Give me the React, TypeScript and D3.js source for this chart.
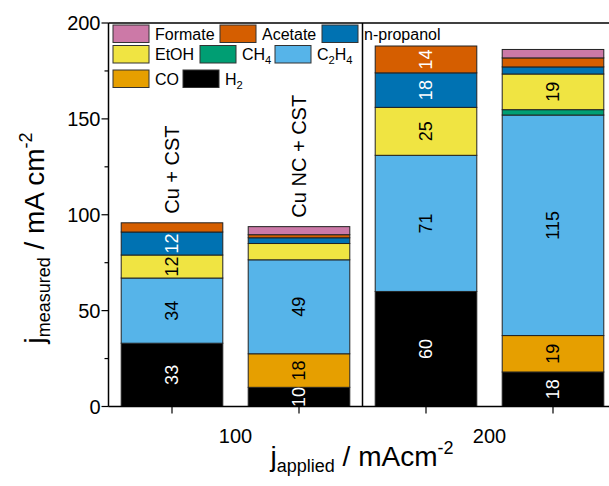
import React from 'react';
import * as d3 from 'd3';

// bars: two catalysts at each applied current density
const bars = ['Cu + CST @100', 'Cu NC + CST @100', 'Cu + CST @200', 'Cu NC + CST @200'];
const barNames = ['Cu + CST', 'Cu NC + CST', '', ''];
const groups = ['100', '200'];
const products = ['H2', 'CO', 'C2H4', 'CH4', 'EtOH', 'n-propanol', 'Acetate', 'Formate'];
const colors = ['#000000', '#E69F00', '#56B4E9', '#009E73', '#F0E442', '#0072B2', '#D55E00', '#CC79A7'];
const whiteText = ['H2', 'n-propanol', 'Acetate'];

const H2 = [33, 10, 60, 18];
const CO = [0, 17.5, 0, 19];
const C2H4 = [34, 49, 71, 115];
const CH4 = [0, 0, 0, 2.8];
const EtOH = [12, 8.5, 25, 18.6];
const nPropanol = [12, 3, 18, 3.7];
const Acetate = [4.8, 1.6, 14, 4.7];
const Formate = [0, 4.2, 0, 4.4];

const yTicks = [0, 50, 100, 150, 200];
const yMinor = [25, 75, 125, 175];

// legend rows (top to bottom)
const legendRows = [
  ['Formate', 'Acetate', 'n-propanol'],
  ['EtOH', 'CH4', 'C2H4'],
  ['CO', 'H2'],
];

const font = '"Liberation Sans", Arial, Helvetica, sans-serif';

const chem = (name: string, size: number) => {
  const parts = name.split(/(\d)/).filter(p => p !== '');
  let sub = false;
  return parts.map((p, i) => {
    if (/^\d$/.test(p)) {
      const el = <tspan key={i} dy={sub ? 0 : 4} fontSize={size * 0.7}>{p}</tspan>;
      sub = true;
      return el;
    }
    const el = <tspan key={i} dy={sub ? -4 : 0} fontSize={size}>{p}</tspan>;
    sub = false;
    return el;
  });
};

const App = () => {
  const width = 609;
  const height = 486;
  const left = 108.5;
  const top = 23;
  const bottom = 406.5;
  const right = 616.5;

  const rows = bars.map((b, i) => ({
    bar: b,
    H2: H2[i], CO: CO[i], C2H4: C2H4[i], CH4: CH4[i], EtOH: EtOH[i],
    'n-propanol': nPropanol[i], Acetate: Acetate[i], Formate: Formate[i],
  }));

  const stacked = d3.stack<any>().keys(products)(rows);

  const x = d3.scaleBand().domain(bars).range([left, right]).paddingInner(0.2).paddingOuter(0.1);
  const y = d3.scaleLinear().domain([0, 200]).range([bottom, top]);
  const bw = x.bandwidth();
  const sep = left + x.step() * 2;

  const legendX = [[113, 220, 322], [113, 200, 275], [113, 183]];
  const legendY = [25, 45.5, 70];

  return (
    <svg width={width} height={height} style={{ position: 'absolute', left: 0, top: 0, background: '#fff' }} fontFamily={font}>
      <defs>
        <clipPath id="plot">
          <rect x={left} y={top} width={right - left} height={bottom - top} />
        </clipPath>
      </defs>

      <g clipPath="url(#plot)">
        {stacked.map((s, k) => (
          <g key={s.key}>
            {s.map((d, i) => (d[1] - d[0] > 0 ? (
              <rect key={i} x={x(bars[i])} y={y(d[1])} width={bw} height={y(d[0]) - y(d[1])}
                fill={colors[k]} stroke="#222" strokeWidth={1} />
            ) : null))}
          </g>
        ))}
        {stacked.map(s => s.map((d, i) => {
          const v = d[1] - d[0];
          if (v < 9.5) return null;
          const cx = (x(bars[i]) as number) + bw / 2;
          const cy = (y(d[0]) + y(d[1])) / 2;
          return (
            <text key={s.key + i} transform={`translate(${cx},${cy}) rotate(-90)`} textAnchor="middle"
              dominantBaseline="central" fontSize={18} fill={whiteText.includes(s.key) ? '#fff' : '#000'}>
              {Math.round(v)}
            </text>
          );
        }))}
      </g>

      {/* catalyst names above the 100 mA bars */}
      {barNames.map((n, i) => {
        if (!n) return null;
        const tot = stacked[stacked.length - 1][i][1];
        const cx = (x(bars[i]) as number) + bw / 2;
        return (
          <text key={n} transform={`translate(${cx},${y(tot) - 9}) rotate(-90)`} dominantBaseline="central"
            fontSize={20} fill="#000">{n}</text>
        );
      })}

      {/* frame */}
      <line x1={left} x2={right} y1={top} y2={top} stroke="#000" strokeWidth={1.5} />
      <line x1={sep} x2={sep} y1={top} y2={bottom} stroke="#000" strokeWidth={1.5} />
      <line x1={left} x2={left} y1={top} y2={bottom} stroke="#000" strokeWidth={1.5} />
      <line x1={left} x2={right} y1={bottom} y2={bottom} stroke="#000" strokeWidth={1.5} />

      {/* y axis */}
      {yTicks.map(t => (
        <g key={t}>
          <line x1={left - 7} x2={left} y1={y(t)} y2={y(t)} stroke="#000" strokeWidth={1.2} />
          <text x={left - 8} y={y(t)} textAnchor="end" dominantBaseline="central" fontSize={20}>{t}</text>
        </g>
      ))}
      {yMinor.map(t => (
        <line key={t} x1={left - 4} x2={left} y1={y(t)} y2={y(t)} stroke="#000" strokeWidth={1.2} />
      ))}

      {/* x axis */}
      {bars.map(b => (
        <line key={b} x1={(x(b) as number) + bw / 2} x2={(x(b) as number) + bw / 2} y1={bottom} y2={bottom + 7}
          stroke="#000" strokeWidth={1.2} />
      ))}
      {groups.map((g, i) => (
        <text key={g} x={left + x.step() * (2 * i + 1)} y={443} textAnchor="middle" fontSize={20}>{g}</text>
      ))}

      {/* axis titles */}
      <text x={362} y={466} textAnchor="middle" fontSize={28}>
        j<tspan fontSize={18} dy={6}>applied</tspan>
        <tspan dy={-6}> / mAcm</tspan>
        <tspan fontSize={18} dy={-12}>-2</tspan>
      </text>
      <text transform="translate(44,238) rotate(-90)" textAnchor="middle" fontSize={28}>
        j<tspan fontSize={18} dy={6}>measured</tspan>
        <tspan dy={-6}> / mA cm</tspan>
        <tspan fontSize={18} dy={-12}>-2</tspan>
      </text>

      {/* legend */}
      {legendRows.map((row, r) => row.map((name, c) => {
        const k = products.indexOf(name);
        const bx = legendX[r][c];
        const by = legendY[r];
        return (
          <g key={name}>
            <rect x={bx} y={by} width={36} height={17.5} fill={colors[k]} stroke="#333" strokeWidth={1} />
            <text x={bx + 42} y={by + 14.5} fontSize={16}>{chem(name, 16)}</text>
          </g>
        );
      }))}
    </svg>
  );
};

export default App;
